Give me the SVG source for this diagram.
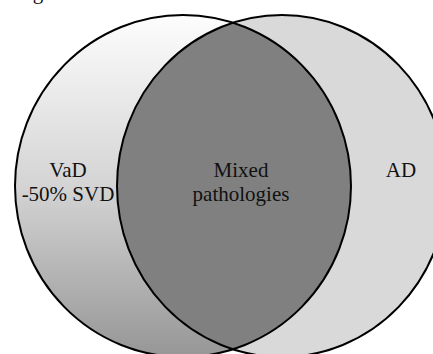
<svg xmlns="http://www.w3.org/2000/svg" width="433" height="354" viewBox="0 0 433 354">
<style>
.lbl{font-family:"Liberation Serif","Times New Roman",serif;font-size:21px;fill:#111;text-anchor:middle}
.edge{fill:none;stroke:#000;stroke-width:2}
</style>
<defs>
<linearGradient id="gl" x1="0" y1="0" x2="0" y2="1">
<stop offset="0" stop-color="#fdfdfd"/>
<stop offset="0.5" stop-color="#d4d4d4"/>
<stop offset="1" stop-color="#969696"/>
</linearGradient>
<clipPath id="clipL"><ellipse cx="183" cy="186" rx="168" ry="171"/></clipPath>
</defs>
<rect width="433" height="354" fill="#fff"/>
<text class="lbl" x="38" y="-1.5">g</text>
<g id="vad">
<ellipse cx="183" cy="186" rx="168" ry="171" fill="url(#gl)"/>
</g>
<g id="ad">
<ellipse cx="282" cy="186" rx="165" ry="171" fill="#d9d9d9"/>
</g>
<g id="mixed">
<ellipse cx="282" cy="186" rx="165" ry="171" fill="#808080" clip-path="url(#clipL)"/>
</g>
<g id="outlines">
<ellipse class="edge" cx="183" cy="186" rx="168" ry="171"/>
<ellipse class="edge" cx="282" cy="186" rx="165" ry="171"/>
</g>
<g id="labels">
<text class="lbl" x="68" y="177">VaD</text>
<text class="lbl" x="68" y="201">-50% SVD</text>
<text class="lbl" x="241" y="177">Mixed</text>
<text class="lbl" x="241" y="201">pathologies</text>
<text class="lbl" x="401" y="177">AD</text>
</g>
</svg>
